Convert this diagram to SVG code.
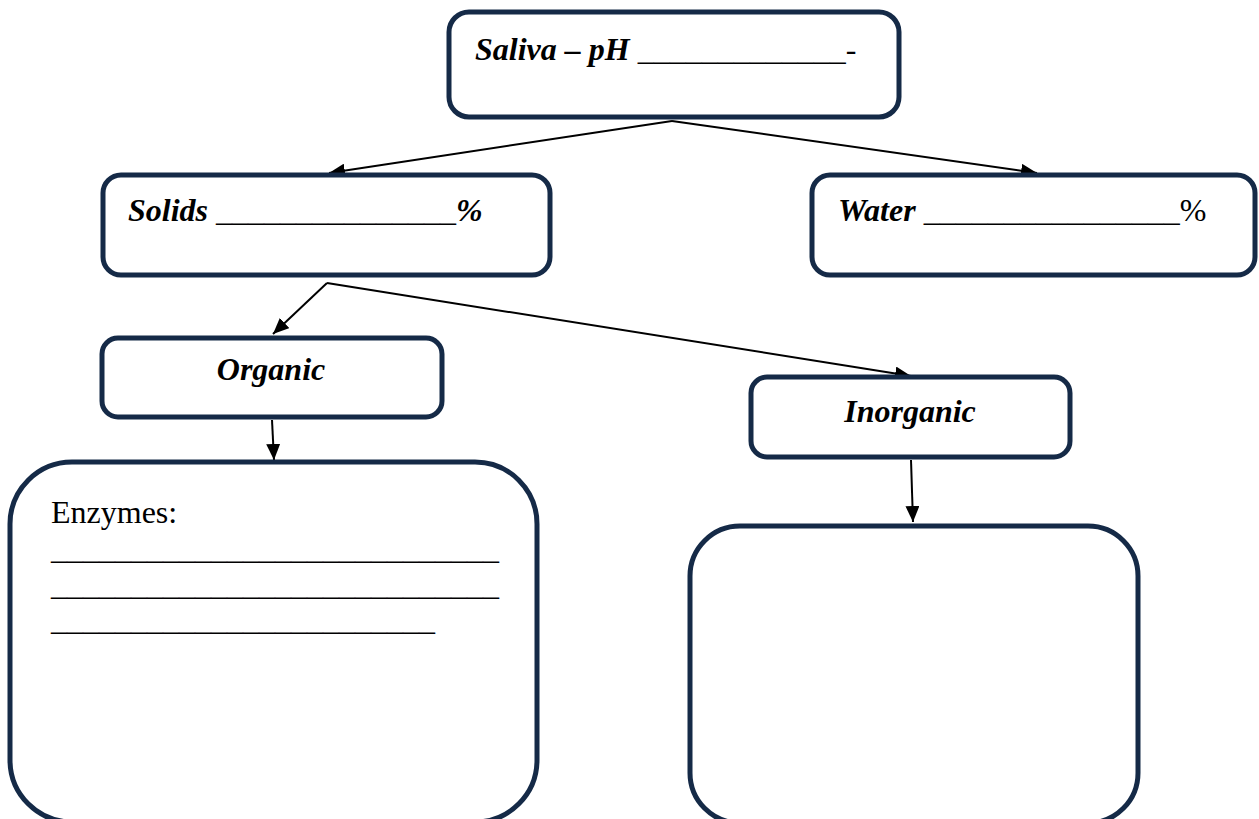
<svg xmlns="http://www.w3.org/2000/svg" width="1259" height="819" viewBox="0 0 1259 819">
  <style>
    .box { fill: #ffffff; stroke: #152a47; stroke-width: 5; }
    .lbl { font-family: "Liberation Serif", "Times New Roman", serif; font-size: 32px; font-weight: bold; font-style: italic; fill: #000000; }
    .reg { font-family: "Liberation Serif", "Times New Roman", serif; font-size: 32px; font-weight: normal; font-style: normal; fill: #000000; }
    .link { fill: none; stroke: #000000; stroke-width: 2; }
  </style>
  <defs>
    <marker id="arrow" markerUnits="userSpaceOnUse" markerWidth="18" markerHeight="14" refX="16" refY="7" orient="auto">
      <path d="M0,0 L16,7 L0,14 Z" fill="#000000"/>
    </marker>
  </defs>
  <rect width="1259" height="819" fill="#ffffff"/>

  <!-- connectors -->
  <g id="connectors">
    <line class="link" x1="672" y1="121" x2="329" y2="173" marker-end="url(#arrow)"/>
    <line class="link" x1="672" y1="121" x2="1037" y2="173" marker-end="url(#arrow)"/>
    <line class="link" x1="327" y1="283" x2="273" y2="334" marker-end="url(#arrow)"/>
    <line class="link" x1="327" y1="283" x2="911" y2="376" marker-end="url(#arrow)"/>
    <line class="link" x1="272" y1="420" x2="274" y2="460" marker-end="url(#arrow)"/>
    <line class="link" x1="911" y1="460" x2="913" y2="522" marker-end="url(#arrow)"/>
  </g>

  <!-- saliva -->
  <g id="saliva">
    <rect class="box" x="449" y="12" width="450" height="105" rx="20"/>
    <text class="lbl" x="475" y="60">Saliva – pH <tspan class="reg">_____________-</tspan></text>
  </g>

  <!-- solids -->
  <g id="solids">
    <rect class="box" x="103" y="175" width="447" height="100" rx="18"/>
    <text class="lbl" x="128" y="221">Solids <tspan class="reg">_______________</tspan>%</text>
  </g>

  <!-- water -->
  <g id="water">
    <rect class="box" x="812" y="175" width="443" height="100" rx="18"/>
    <text class="lbl" x="838" y="221">Water <tspan class="reg">________________%</tspan></text>
  </g>

  <!-- organic -->
  <g id="organic">
    <rect class="box" x="102" y="338" width="340" height="79" rx="16"/>
    <text class="lbl" x="271" y="380" text-anchor="middle">Organic</text>
  </g>

  <!-- inorganic -->
  <g id="inorganic">
    <rect class="box" x="751" y="377" width="319" height="80" rx="16"/>
    <text class="lbl" x="910" y="422" text-anchor="middle">Inorganic</text>
  </g>

  <!-- enzymes -->
  <g id="enzymes">
    <rect class="box" x="10" y="462" width="527" height="360" rx="62"/>
    <text class="reg" x="51" y="523">Enzymes:</text>
    <text class="reg" x="51" y="559">____________________________</text>
    <text class="reg" x="51" y="595">____________________________</text>
    <text class="reg" x="51" y="630">________________________</text>
  </g>

  <!-- inorganic contents -->
  <g id="inorganic-list">
    <rect class="box" x="690" y="526" width="448" height="297" rx="50"/>
  </g>
</svg>
